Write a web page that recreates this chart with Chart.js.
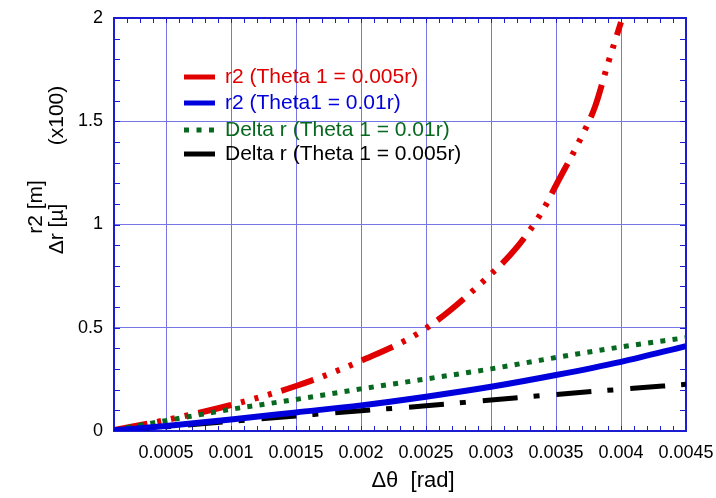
<!DOCTYPE html>
<html>
<head>
<meta charset="utf-8">
<script src="https://cdn.jsdelivr.net/npm/chart.js@4.4.1/dist/chart.umd.min.js"></script>
<style>
  html, body { margin: 0; padding: 0; background: #fff; }
</style>
</head>
<body>
<canvas id="chart" width="716" height="498"></canvas>
<script>
// --- Dades llegides del gràfic ---
const thetaX    = [0.0001, 0.0005, 0.001, 0.0015, 0.002, 0.0025, 0.003, 0.0035, 0.004, 0.0045];
const r2Theta01 = [0.003, 0.024, 0.056, 0.090, 0.124, 0.166, 0.214, 0.271, 0.335, 0.411];   // blau
const dRTheta01 = [0.005, 0.050, 0.105, 0.153, 0.204, 0.252, 0.301, 0.356, 0.407, 0.452];   // verd
const dRTheta005 = [0.000, 0.020, 0.047, 0.073, 0.098, 0.122, 0.150, 0.177, 0.202, 0.226];  // negre

const r2ThetaX   = [0.0001, 0.0005, 0.001, 0.0015, 0.002, 0.0025, 0.003, 0.0032, 0.0034, 0.0035, 0.0037, 0.0038, 0.0039, 0.004];
const r2Theta005 = [0.005, 0.053, 0.126, 0.218, 0.340, 0.497, 0.760, 0.890, 1.070, 1.190, 1.430, 1.570, 1.780, 1.980]; // vermell

const xTickValues = [0.0005, 0.001, 0.0015, 0.002, 0.0025, 0.003, 0.0035, 0.004, 0.0045];
const xTickLabels = ['0.0005', '0.001', '0.0015', '0.002', '0.0025', '0.003', '0.0035', '0.004', '0.0045'];
const yTickValues = [0, 0.5, 1, 1.5, 2];
const yTickLabels = ['0', '0.5', '1', '1.5', '2'];

const seriesLabels = ['r2 (Theta 1 = 0.005r)', 'r2 (Theta1 = 0.01r)', 'Delta r (Theta 1 = 0.01r)', 'Delta r (Theta 1 = 0.005r)'];
const xTitle = 'Δθ  [rad]';
const yTitleLines = ['r2 [m]', 'Δr [µ]          (x100)'];

// --- Estils ---
const FONT = "'Liberation Sans', Arial, sans-serif";
const RED = '#e00000', BLUE = '#0000dc', GREEN = '#07681f', BLACK = '#000000';
const GRID = '#7676e8', AXIS = '#1c1cd0';
const dashes = {
    red:   [34, 10, 4, 10, 4, 10, 4, 10],
    blue:  [],
    green: [5, 7.3],
    black: [35, 16, 6, 17],
};
const legendDash = [[], [], [5, 7.5], []];
const legendColors = [RED, BLUE, GREEN, BLACK];

const toPoints = (xs, ys) => xs.map((x, i) => ({ x, y: ys[i] }));

function makeDataset(label, color, data, dash, width) {
    return {
        label, data,
        borderColor: color,
        borderWidth: width,
        borderDash: dash,
        borderCapStyle: 'butt',
        pointRadius: 0,
        cubicInterpolationMode: 'monotone',
        fill: false,
    };
}

// --- Marc, ticks interns, títols i llegenda ---
const decor = {
    id: 'decor',
    beforeDatasetsDraw(chart) {
        const { ctx, chartArea: a, scales: { x, y } } = chart;
        ctx.save();
        ctx.strokeStyle = AXIS;
        ctx.lineWidth = 1;
        ctx.beginPath();
        for (let i = 1; i <= 45; i++) {
            const px = Math.round(x.getPixelForValue(i * 0.0001)) + 0.5;
            ctx.moveTo(px, a.bottom); ctx.lineTo(px, a.bottom - 5);
            ctx.moveTo(px, a.top);    ctx.lineTo(px, a.top + 5);
        }
        for (let i = 0; i <= 20; i++) {
            const py = Math.round(y.getPixelForValue(i * 0.1)) + 0.5;
            ctx.moveTo(a.left, py);  ctx.lineTo(a.left + 6, py);
            ctx.moveTo(a.right, py); ctx.lineTo(a.right - 6, py);
        }
        ctx.stroke();
        ctx.lineWidth = 2;
        ctx.strokeRect(a.left, a.top, a.width, a.height);
        ctx.restore();
    },
    afterDraw(chart) {
        const { ctx } = chart;
        ctx.save();
        ctx.fillStyle = '#000';
        ctx.textBaseline = 'middle';

        // títol eix X
        ctx.font = '22px ' + FONT;
        ctx.textAlign = 'center';
        ctx.fillText(xTitle, 413, 481);

        // títol eix Y (dues línies girades)
        ctx.font = '21px ' + FONT;
        const pos = [[36, 207], [57, 170]];
        yTitleLines.forEach((t, i) => {
            ctx.save();
            ctx.translate(pos[i][0], pos[i][1]);
            ctx.rotate(-Math.PI / 2);
            ctx.fillText(t, 0, 0);
            ctx.restore();
        });

        // llegenda
        ctx.font = '21px ' + FONT;
        ctx.textAlign = 'left';
        const rows = [77, 103, 130, 154];
        seriesLabels.forEach((lab, i) => {
            ctx.strokeStyle = legendColors[i];
            ctx.lineWidth = 5;
            ctx.setLineDash(legendDash[i]);
            ctx.beginPath();
            ctx.moveTo(184, rows[i]);
            ctx.lineTo(215, rows[i]);
            ctx.stroke();
            ctx.setLineDash([]);
            ctx.fillStyle = legendColors[i];
            ctx.fillText(lab, 225, rows[i]);
        });
        ctx.restore();
    }
};

new Chart(document.getElementById('chart'), {
    type: 'line',
    data: {
        datasets: [
            makeDataset(seriesLabels[1], BLUE, toPoints(thetaX, r2Theta01), dashes.blue, 6),
            makeDataset(seriesLabels[2], GREEN, toPoints(thetaX, dRTheta01), dashes.green, 5),
            makeDataset(seriesLabels[3], BLACK, toPoints(thetaX, dRTheta005), dashes.black, 5),
            makeDataset(seriesLabels[0], RED, toPoints(r2ThetaX, r2Theta005), dashes.red, 6),
        ]
    },
    options: {
        responsive: false,
        animation: false,
        layout: { padding: { top: 18, right: 30, left: 0, bottom: 0 } },
        plugins: { legend: { display: false }, tooltip: { enabled: false } },
        scales: {
            x: {
                type: 'linear',
                min: 0.0001, max: 0.0045,
                afterBuildTicks: s => { s.ticks = xTickValues.map(v => ({ value: v })); },
                afterFit: s => { s.height = 67; s.paddingLeft = 0; s.paddingRight = 0; },
                grid: { color: GRID, lineWidth: 1, drawTicks: false },
                border: { display: false },
                ticks: {
                    autoSkip: false, maxRotation: 0, padding: 11,
                    color: '#000', font: { family: FONT, size: 18 },
                    callback: (v, i) => xTickLabels[i],
                },
            },
            y: {
                min: 0, max: 2,
                afterBuildTicks: s => { s.ticks = yTickValues.map(v => ({ value: v })); },
                afterFit: s => { s.width = 114; s.paddingTop = 0; s.paddingBottom = 0; },
                grid: { color: GRID, lineWidth: 1, drawTicks: false },
                border: { display: false },
                ticks: {
                    padding: 11,
                    color: '#000', font: { family: FONT, size: 18 },
                    callback: (v, i) => yTickLabels[i],
                },
            }
        }
    },
    plugins: [decor]
});
</script>
</body>
</html>
